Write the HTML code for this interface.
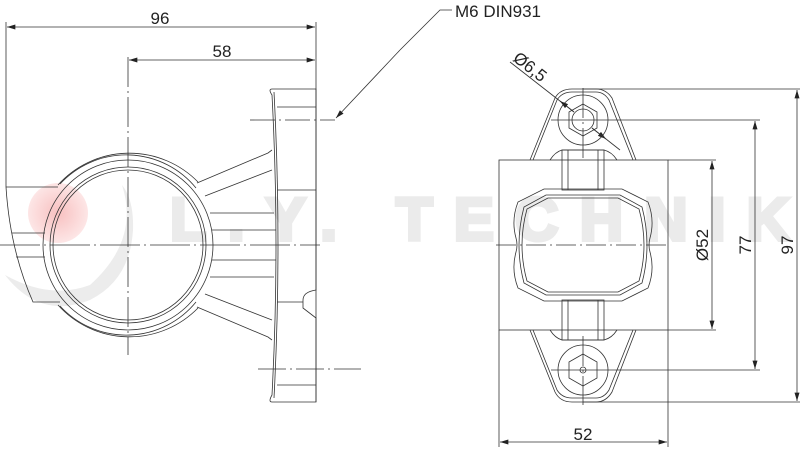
<!DOCTYPE html>
<html><head><meta charset="utf-8"><style>
html,body{margin:0;padding:0;background:#fff;}
svg{display:block}
text{font-family:"Liberation Sans",sans-serif;fill:#222}
</style></head><body>
<svg width="800" height="449" viewBox="0 0 800 449" xmlns="http://www.w3.org/2000/svg">
<defs>
<marker id="a" viewBox="0 0 10 6" refX="10" refY="3" markerWidth="12" markerHeight="5" orient="auto-start-reverse" markerUnits="userSpaceOnUse"><path d="M0,0 L10,3 L0,6z" fill="#222"/></marker>
<radialGradient id="rg" cx="0.5" cy="0.5" r="0.5"><stop offset="0" stop-color="#f8c0c0"/><stop offset="1" stop-color="#fde6e6"/></radialGradient>
</defs>
<!-- watermark -->
<g>
<circle cx="58" cy="213" r="30" fill="url(#rg)"/>
<path d="M5,275 Q40,320 90,300 Q130,280 133,230 Q134,200 122,185 Q140,240 90,285 Q50,300 5,275z" fill="#ececec"/>
<text x="170" y="240" font-size="60" font-weight="bold" textLength="620" lengthAdjust="spacing" style="fill:#ebebeb;stroke:#ebebeb;stroke-width:4">L.Y. TECHNIK</text>
</g>
<g fill="none" stroke="#333" stroke-width="0.8">
<!-- left dims -->
<line x1="6" y1="22" x2="6" y2="187"/>
<line x1="316" y1="22" x2="316" y2="402"/>
<line x1="7" y1="27" x2="315" y2="27" marker-start="url(#a)" marker-end="url(#a)"/>
<line x1="129" y1="60" x2="315" y2="60" marker-start="url(#a)" marker-end="url(#a)"/>
<line x1="128" y1="57" x2="128" y2="355" stroke-dasharray="30,4,2,4"/>
<line x1="0" y1="245" x2="320" y2="245" stroke-dasharray="40,4,2,4"/>
<line x1="250" y1="120" x2="335" y2="120" stroke-dasharray="25,4,2,4"/>
<line x1="258" y1="369" x2="361" y2="369" stroke-dasharray="28,4,2,4"/>
<!-- leader -->
<polyline points="452,10 440,10 400,50"/>
<line x1="400" y1="50" x2="336" y2="118" marker-end="url(#a)"/>
<!-- plate -->
<path d="M272,89 L316,89 L316,290 Q303,292 303,300 L303,308 L316,318 L316,402 L272,402 Q268,402 272,395 Q280,245 272,95 Q268,89 272,89z"/>
<path d="M274,92 Q282,245 274,398"/>
<line x1="277" y1="107" x2="316" y2="107"/>
<line x1="277" y1="190" x2="316" y2="190"/>
<line x1="277" y1="302" x2="303" y2="302"/>
<line x1="277" y1="385" x2="316" y2="385"/>
<!-- ring -->
<circle cx="128" cy="245" r="85"/>
<circle cx="128" cy="245" r="78"/>
<circle cx="128" cy="245" r="75"/>
<path d="M58,185 A96,96 0 0 1 198,182"/>
<path d="M58,305 A96,96 0 0 0 198,308"/>
<path d="M60,184 A90,90 0 0 1 196,188"/>
<path d="M60,306 A90,90 0 0 0 196,302"/>
<!-- fins -->
<path d="M197,183 L268,153 L272,150"/>
<path d="M205,196 L272,170"/>
<path d="M210,213 L274,213"/>
<path d="M212,230 L276,230"/>
<path d="M212,260 L276,260"/>
<path d="M210,277 L274,277"/>
<path d="M205,294 L272,320"/>
<path d="M197,307 L268,337 L272,340"/>
<!-- left bracket -->
<path d="M6,187 L58,187 M6,187 Q10,250 33,302 L60,302"/>
<line x1="12" y1="233" x2="45" y2="233"/>
<line x1="16" y1="257" x2="45" y2="257"/>
<!-- right view body -->
<rect x="499" y="160" width="169" height="170"/>
<path d="M530,160 L555,98 Q560,89 572,89 L596,89 Q606,89 612,98 L636,160"/>
<path d="M533,160 L557,100 Q562,92 572,92 L596,92 Q604,92 609,100 L633,160"/>
<path d="M530,330 L555,392 Q560,402 572,402 L596,402 Q606,402 612,392 L636,330"/>
<path d="M533,330 L557,390 Q562,398 572,398 L596,398 Q604,398 609,390 L633,330"/>
<circle cx="583" cy="120" r="25"/><circle cx="583" cy="370" r="25"/>
<polygon points="583,104 597,112 597,128 583,136 569,128 569,112"/>
<polygon points="583,354 597,362 597,378 583,386 569,378 569,362"/>
<circle cx="583" cy="120" r="11"/><circle cx="583" cy="370" r="3"/>
<!-- tabs -->
<path d="M550,160 Q555,152 562,150 L604,150 Q612,152 617,160"/>
<path d="M550,330 Q555,338 562,340 L604,340 Q612,338 617,330"/>
<rect x="562" y="150" width="42" height="40"/><line x1="568" y1="150" x2="568" y2="190"/><line x1="598" y1="150" x2="598" y2="190"/>
<rect x="562" y="300" width="42" height="40"/><line x1="568" y1="300" x2="568" y2="340"/><line x1="598" y1="300" x2="598" y2="340"/>
<!-- lens -->
<path d="M544,189 L622,189 L648,202 Q655,220 650,238 Q648,245 650,252 Q655,270 648,288 L622,301 L544,301 L518,288 Q511,270 516,252 Q518,245 516,238 Q511,220 518,202z"/>
<path d="M546,195 L620,195 L642,207 Q652,245 642,283 L620,295 L546,295 L524,283 Q514,245 524,207z"/>
<path d="M548,198 L618,198 L639,209 Q649,245 639,281 L618,292 L548,292 L527,281 Q517,245 527,209z"/>
<line x1="496" y1="245" x2="670" y2="245" stroke-dasharray="20,4,2,4"/>
<line x1="583" y1="88" x2="583" y2="158" stroke-dasharray="30,4,2,4"/>
<line x1="583" y1="336" x2="583" y2="405" stroke-dasharray="30,4,2,4"/>
<line x1="551" y1="120" x2="760" y2="120"/>
<line x1="551" y1="370" x2="760" y2="370"/>
<line x1="583" y1="89" x2="800" y2="89"/>
<line x1="583" y1="402" x2="800" y2="402"/>
<line x1="668" y1="160" x2="716" y2="160"/>
<line x1="668" y1="330" x2="716" y2="330"/>
<line x1="712" y1="161" x2="712" y2="329" marker-start="url(#a)" marker-end="url(#a)"/>
<line x1="755" y1="121" x2="755" y2="369" marker-start="url(#a)" marker-end="url(#a)"/>
<line x1="797" y1="90" x2="797" y2="401" marker-start="url(#a)" marker-end="url(#a)"/>
<line x1="499" y1="330" x2="499" y2="447"/>
<line x1="668" y1="330" x2="668" y2="447"/>
<line x1="500" y1="442" x2="667" y2="442" marker-start="url(#a)" marker-end="url(#a)"/>
<!-- Ø6,5 leader -->
<line x1="510" y1="62" x2="574" y2="112"/>
<line x1="574" y1="112" x2="560" y2="101" marker-end="url(#a)"/>
<line x1="592" y1="128" x2="606" y2="139" marker-end="url(#a)"/>
<line x1="592" y1="128" x2="620" y2="150"/>
</g>
<text x="160" y="24" font-size="17" text-anchor="middle">96</text>
<text x="222" y="57" font-size="17" text-anchor="middle">58</text>
<text x="455" y="17" font-size="17">M6 DIN931</text>
<text x="583" y="440" font-size="17" text-anchor="middle">52</text>
<text transform="translate(708,245) rotate(-90)" font-size="17" text-anchor="middle">Ø52</text>
<text transform="translate(751,245) rotate(-90)" font-size="17" text-anchor="middle">77</text>
<text transform="translate(793,245) rotate(-90)" font-size="17" text-anchor="middle">97</text>
<text transform="translate(512,60) rotate(38)" font-size="17">Ø6,5</text>
</svg>
</body></html>
